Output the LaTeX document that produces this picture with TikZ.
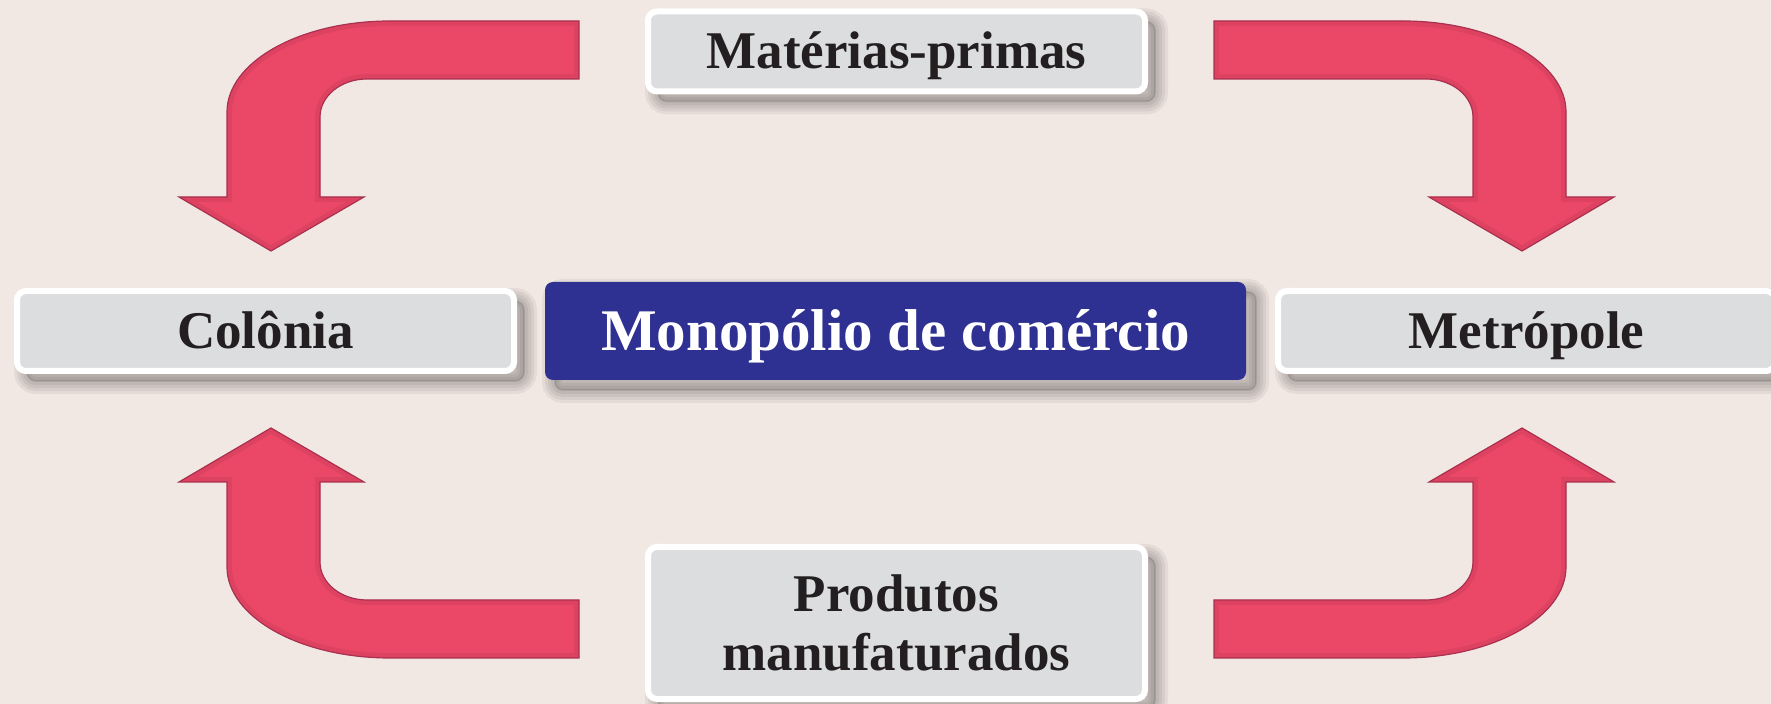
\documentclass[tikz,border=0pt]{standalone}
\usepackage{fontspec}
\setmainfont{Liberation Serif}
\definecolor{bgpaper}{RGB}{242,232,227}
\definecolor{boxgray}{RGB}{220,221,223}
\definecolor{monoblue}{RGB}{46,49,146}
\definecolor{flowred}{RGB}{234,72,102}
\definecolor{flowedge}{RGB}{170,48,80}
\definecolor{ink}{RGB}{35,31,32}
\newcommand\bendpath{(579,21) -- (390,21) .. controls (300,21) and (227,62) .. (227,112) -- (227,197)
  -- (179,197) -- (271,251) -- (364,197) -- (320,197) -- (320,117)
  .. controls (320,96) and (341,79) .. (367,79) -- (579,79) -- cycle}

\begin{document}
\begin{tikzpicture}[x=0.5pt,y=-0.5pt]
  \tikzset{
    haze/.style={preaction={draw=black,line width=#1,opacity=.055,transform canvas={shift={(5pt,-5pt)}}}},
    shadowed/.style={haze=13pt,haze=10pt,haze=7pt,haze=4pt,
      preaction={draw=black,fill=black,line width=1pt,opacity=.1,transform canvas={shift={(5pt,-5pt)}}}},
    place/.style={shadowed,draw=white,line width=3pt,fill=boxgray,rounded corners=4.5pt,
      minimum width=248.5pt,minimum height=40pt,inner sep=0pt,text=ink,align=center,
      text height=17.5pt,text depth=0pt,font=\fontsize{26.5}{29.5}\selectfont\bfseries},
    hub/.style={shadowed,fill=monoblue,rounded corners=4pt,minimum width=350.5pt,
      minimum height=49pt,inner sep=0pt,text=white,text height=19.5pt,text depth=0pt,
      font=\fontsize{29.5}{32}\selectfont\bfseries},
    flow/.style={fill=flowred,draw=flowedge,line width=.6pt}
  }
  \useasboundingbox (0,0) rectangle (1771,704);
  \clip (0,0) rectangle (1771,704);
  \fill[bgpaper] (0,0) rectangle (1771,704);

  \foreach \sx/\sy in {1/1,-1/1,1/-1,-1/-1}{
    \begin{scope}[shift={(896.5,339.5)},xscale=\sx,yscale=\sy,shift={(-896.5,-339.5)}]
      \fill[flow] \bendpath;
      \begin{scope}
        \clip \bendpath;
        \draw[flowedge,line width=5pt,opacity=.2] \bendpath;
      \end{scope}
    \end{scope}}

  \node[place] (mat) at (896.5,51.5) {Matérias-primas};
  \node[place] (col) at (265.5,331) {Colônia};
  \node[hub] (mono) at (895.5,331) {Monopólio de comércio};
  \node[place] (met) at (1526.5,331) {Metrópole};
  \node[place,minimum height=76pt,text height=,text depth=] (prod) at (896.5,623) {Produtos\\manufaturados};
\end{tikzpicture}
\end{document}
